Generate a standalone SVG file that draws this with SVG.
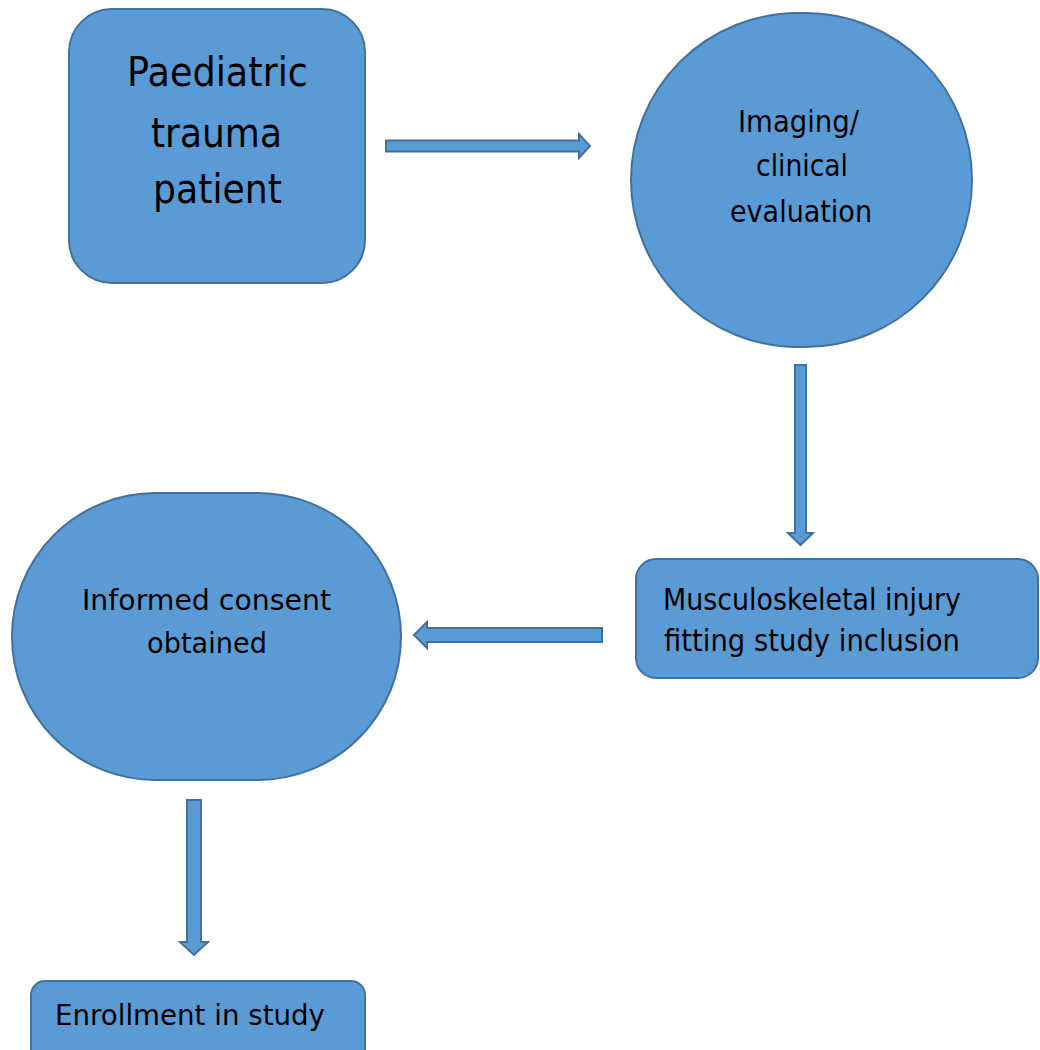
<svg xmlns="http://www.w3.org/2000/svg" width="1040" height="1050" viewBox="0 0 1040 1050">
<style>
.shape{fill:#5B9BD5;stroke:#41719C;stroke-width:2}
.arrow{fill:#5B9BD5;stroke:#41719C;stroke-width:2;stroke-linejoin:miter}
.t{font-family:"DejaVu Sans","Liberation Sans",sans-serif;fill:#000}
.c{text-anchor:middle}
</style>
<rect width="1040" height="1050" fill="#fff"/>
<g id="connectors">
<polygon class="arrow" points="386,140.5 579,140.5 579,134 590,146 579,158 579,151.5 386,151.5"/>
<polygon class="arrow" points="795,365 806,365 806,533 813,533 800.5,545 788,533 795,533"/>
<polygon class="arrow" points="602,628 427,628 427,622 414,635 427,648 427,642 602,642"/>
<polygon class="arrow" points="187,800 201,800 201,942 208,942 194,955 180,942 187,942"/>
</g>
<g id="node-trauma-patient">
<rect class="shape" x="69" y="9" width="296" height="274" rx="43" ry="43"/>
<text class="t c" font-size="41" x="217.5" y="86" textLength="181" lengthAdjust="spacingAndGlyphs">Paediatric</text>
<text class="t c" font-size="41" x="216.5" y="147" textLength="131" lengthAdjust="spacingAndGlyphs">trauma</text>
<text class="t c" font-size="41" x="217.5" y="203" textLength="129" lengthAdjust="spacingAndGlyphs">patient</text>
</g>
<g id="node-imaging">
<rect class="shape" x="631" y="13" width="341" height="334" rx="167" ry="167"/>
<text class="t c" font-size="30" x="798.5" y="132" textLength="121" lengthAdjust="spacingAndGlyphs">Imaging/</text>
<text class="t c" font-size="30" x="802" y="176" textLength="92" lengthAdjust="spacingAndGlyphs">clinical</text>
<text class="t c" font-size="30" x="801" y="222" textLength="142" lengthAdjust="spacingAndGlyphs">evaluation</text>
</g>
<g id="node-injury">
<rect class="shape" x="636" y="559" width="402" height="119" rx="20" ry="20"/>
<text class="t" font-size="29.5" x="663" y="610" textLength="298" lengthAdjust="spacingAndGlyphs">Musculoskeletal injury</text>
<text class="t" font-size="29.5" x="664" y="651" textLength="296" lengthAdjust="spacingAndGlyphs">fitting study inclusion</text>
</g>
<g id="node-consent">
<rect class="shape" x="12" y="493" width="389" height="287" rx="143.5" ry="143.5"/>
<text class="t c" font-size="28" x="206.5" y="610" textLength="249" lengthAdjust="spacingAndGlyphs">Informed consent</text>
<text class="t c" font-size="28" x="207" y="653" textLength="120" lengthAdjust="spacingAndGlyphs">obtained</text>
</g>
<g id="node-enrollment">
<rect class="shape" x="31" y="981" width="334" height="100" rx="14" ry="14"/>
<text class="t" font-size="28" x="55" y="1025" textLength="270" lengthAdjust="spacingAndGlyphs">Enrollment in study</text>
</g>
</svg>
